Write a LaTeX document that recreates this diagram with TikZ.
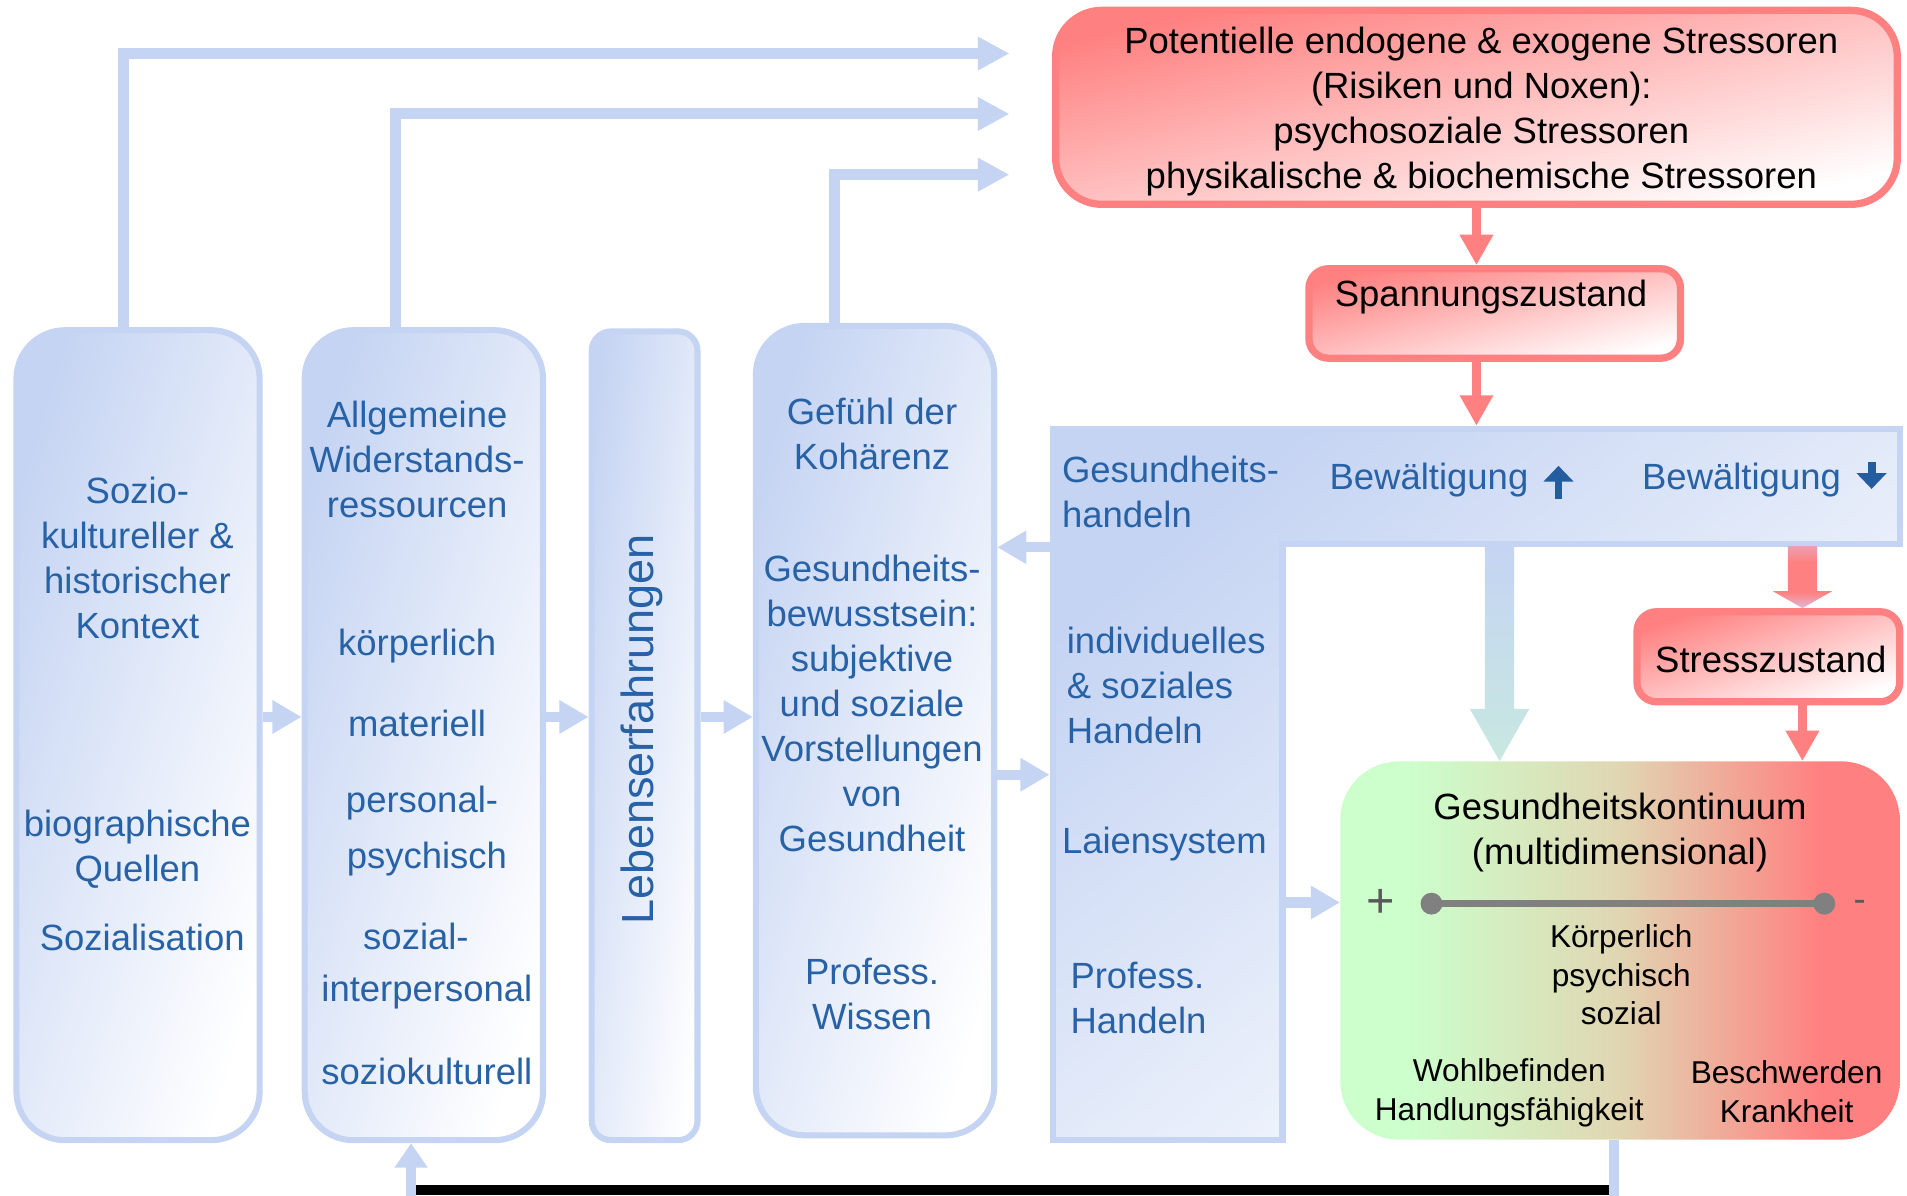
\documentclass[tikz,border=0pt]{standalone}
\usepackage{fontspec}
\setmainfont{Liberation Sans}
\usetikzlibrary{arrows.meta,calc}
\definecolor{bluec}{RGB}{197,212,243}
\definecolor{txtblue}{RGB}{40,98,166}
\definecolor{arrblue}{RGB}{36,92,160}
\definecolor{redc}{RGB}{255,128,128}
\definecolor{kgreen}{RGB}{204,255,204}
\definecolor{ktan}{RGB}{224,214,178}
\definecolor{kred}{RGB}{255,128,128}
\definecolor{greyc}{RGB}{128,128,128}
\definecolor{signgrey}{RGB}{90,90,90}
\definecolor{arrteal}{RGB}{200,232,224}
\definecolor{arrpinkA}{RGB}{233,161,178}
\definecolor{arrpinkB}{RGB}{224,184,214}
\pgfdeclarehorizontalshading{kontshade}{100bp}{color(0bp)=(kgreen); color(31bp)=(kgreen); color(50bp)=(ktan); color(68bp)=(kred); color(100bp)=(kred)}
\pgfdeclareverticalshading{redarrshade}{100bp}{color(0bp)=(arrpinkB); color(25bp)=(arrpinkB); color(38bp)=(redc); color(62bp)=(redc); color(75bp)=(arrpinkA); color(100bp)=(arrpinkA)}
\newcommand\fmain{\fontsize{30}{37}\selectfont}
\newcommand\fsmall{\fontsize{26}{31.5}\selectfont}
\newcommand\fbig{\fontsize{37}{44}\selectfont}
\newcommand\fplus{\fontsize{40}{44}\selectfont}
\begin{document}
\begin{tikzpicture}[x=1pt,y=-1pt,
  bluebox/.style={draw=bluec, line width=5pt, top color=bluec, bottom color=white, shading angle=73, inner sep=0pt},
  redbox/.style={draw=redc, line width=6pt, top color=redc, bottom color=white, inner sep=0pt},
  kontbox/.style={shade, shading=kontshade, inner sep=0pt, rounded corners=48pt, minimum width=460pt, minimum height=311pt},
  txtb/.style={text=txtblue, font=\fmain, align=center, inner sep=0pt},
  txtbl/.style={text=txtblue, font=\fmain, align=left, inner sep=0pt, anchor=west},
  txtk/.style={text=black, font=\fmain, align=center, inner sep=0pt},
  txtks/.style={text=black, font=\fsmall, align=center, inner sep=0pt},
  barrow/.style={draw=bluec, line width=8.5pt, -{Triangle[length=24pt,width=26pt]}},
  tarrow/.style={draw=bluec, line width=9pt, -{Triangle[length=26pt,width=26pt]}},
  rarrow/.style={draw=redc, line width=7pt, -{Triangle[length=25pt,width=26pt]}},
  boldarr/.style={draw=arrblue, line width=6.5pt, -{Triangle[length=13pt,width=24pt]}},
  dotnode/.style={circle, fill=greyc, inner sep=0pt, minimum size=18pt}
]
\useasboundingbox (0,0) rectangle (1568,983);

% row coordinates
\coordinate (r1) at (0,589.5);
\coordinate (r2) at (0,450);
\coordinate (r3) at (0,637);
\coordinate (Ltop) at (0,350);
\coordinate (Lw) at (863,450);
\coordinate (Le) at (1057,742);

% left boxes
\node[bluebox, rounded corners=40pt, minimum width=200pt, minimum height=666pt] (A) at (113.5,604.5) {};
\node[bluebox, rounded corners=40pt, minimum width=196pt, minimum height=666pt] (B) at (348.5,604.5) {};
\node[bluebox, shading angle=82, rounded corners=16pt, minimum width=87pt, minimum height=665pt] (C) at (530,605) {};
\node[bluebox, rounded corners=40pt, minimum width=196pt, minimum height=665.5pt] (D) at (719.5,600.75) {};

% red boxes
\node[redbox, shading angle=13, rounded corners=38pt, minimum width=692pt, minimum height=159.5pt] (S) at (1214,88.25) {};
\node[redbox, shading angle=14, rounded corners=16pt, minimum width=305.5pt, minimum height=73.5pt] (P) at (1229,257.75) {};
\node[redbox, shading angle=19, rounded corners=16pt, minimum width=216pt, minimum height=74pt] (Z) at (1454,540) {};

% Gesundheitskontinuum
\node[kontbox] (K) at (1332,781.5) {};

% L-shape
\coordinate (L1) at (865.5,352.5);
\coordinate (L2) at (1562.5,352.5);
\coordinate (L3) at (1562.5,447.5);
\coordinate (L4) at (1054.5,447.5);
\coordinate (L5) at (1054.5,937.5);
\coordinate (L6) at (865.5,937.5);
\draw[draw=bluec, line width=5pt, top color=bluec, bottom color=white, shading angle=40] (L1) -- (L2) -- (L3) -- (L4) -- (L5) -- (L6) -- cycle;

% top connectors
\coordinate (T1) at (830,44);
\coordinate (T2) at (830,93.7);
\coordinate (T3) at (830,143.6);
\draw[tarrow] ([xshift=-12pt]A.north) |- (T1);
\draw[tarrow] ([xshift=-23pt]B.north) |- (T2);
\draw[tarrow] ([xshift=-33.5pt]D.north) |- (T3);

% between boxes
\draw[barrow] (A.east |- r1) -- (B.west |- r1);
\draw[barrow] (B.east |- r1) -- (C.west |- r1);
\draw[barrow] (C.east |- r1) -- (D.west |- r1);
\draw[barrow] (Lw) -- (D.east |- r2);
\draw[barrow] (D.east |- r3) -- (Lw |- r3);
\draw[barrow] (Le) -- (K.west |- Le);

% red arrows
\draw[rarrow] (S.south) -- (S.south |- P.north);
\draw[rarrow] (P.south -| S.south) -- (S.south |- Ltop);

% wide arrows
\coordinate (wb1) at (1233,449);
\coordinate (wb2) at (K.north -| wb1);
\shade[top color=bluec, bottom color=arrteal]
  ($(wb1)+(-12,0)$) -- ($(wb1)+(12,0)$) -- ($(wb2)+(12,-43)$) -- ($(wb2)+(24.5,-43)$) -- (wb2)
  -- ($(wb2)+(-24.5,-43)$) -- ($(wb2)+(-12,-43)$) -- cycle;
\coordinate (wr1) at (1482,449);
\coordinate (wr2) at (Z.north -| wr1);
\shade[shading=redarrshade]
  ($(wr1)+(-12,0)$) -- ($(wr1)+(12,0)$) -- ($(wr2)+(12,-14)$) -- ($(wr2)+(24.5,-14)$) -- (wr2)
  -- ($(wr2)+(-24.5,-14)$) -- ($(wr2)+(-12,-14)$) -- cycle;
\draw[rarrow] (Z.south -| wr1) -- (K.north -| wr1);

% feedback loop
\coordinate (fb1) at (1327,978.5);
\coordinate (fb2) at (338,978.5);
\draw[black, line width=8pt] (fb1) -- (fb2);
\draw[draw=bluec, line width=8.5pt] (K.south -| fb1) -- ($(fb1)+(0,5)$);
\draw[draw=bluec, line width=8.5pt, -{Triangle[length=20pt,width=26pt]}] ($(fb2)+(0,5)$) -- (B.south -| fb2);

% texts box A
\node[txtb] (tA1) at (113,458.5) {Sozio-\\kultureller \&\\historischer\\Kontext};
\node[txtb] (tA2) at (113,698) {biographische\\Quellen};
\node[txtb] (tA3) at (117,771) {Sozialisation};
% box B
\node[txtb] (tB1) at (343,378) {Allgemeine\\Widerstands-\\ressourcen};
\node[txtb] (tB2) at (343,531) {körperlich};
\node[txtb] (tB3) at (343,595) {materiell};
\node[txtb] (tB4) at (347,660) {personal-};
\node[txtb] (tB5) at (351,706) {psychisch};
\node[txtb] (tB6) at (342,770) {sozial-};
\node[txtb] (tB7) at (351,816) {interpersonal};
\node[txtb] (tB8) at (351,881) {soziokulturell};
% box C
\node[text=txtblue, font=\fbig, inner sep=0pt, rotate=90] (tC) at (528,600) {Lebenserfahrungen};
% box D
\node[txtb] (tD1) at (717,357) {Gefühl der\\Kohärenz};
\node[txtb] (tD2) at (717,578) {Gesundheits-\\bewusstsein:\\subjektive\\und soziale\\Vorstellungen\\von\\Gesundheit};
\node[txtb] (tD3) at (717,817.5) {Profess.\\Wissen};
% L-shape
\node[txtbl] (tL1) at (873,404.5) {Gesundheits-\\handeln};
\node[txtbl] (tL2) at (1093,395) {Bewältigung};
\node[txtbl] (tL3) at (1350,395) {Bewältigung};
\draw[boldarr] ([xshift=24.6pt,yshift=-15pt]tL2.east) -- ([xshift=24.6pt,yshift=12pt]tL2.east);
\draw[boldarr] ([xshift=25pt,yshift=15pt]tL3.east) -- ([xshift=25pt,yshift=-7pt]tL3.east);
\node[txtbl] (tL4) at (877,564) {individuelles\\\& soziales\\Handeln};
\node[txtbl] (tL5) at (873,694) {Laiensystem};
\node[txtbl] (tL6) at (880,820.5) {Profess.\\Handeln};
% red texts
\node[txtk] (tS) at (1218,92) {Potentielle endogene \& exogene Stressoren\\(Risiken und Noxen):\\psychosoziale Stressoren\\physikalische \& biochemische Stressoren};
\node[txtk] (tP) at (1226,244) {Spannungszustand};
\node[txtk] (tZ) at (1456,542) {Stresszustand};
% Kontinuum
\node[txtk] (tK1) at (1332,684.5) {Gesundheitskontinuum\\(multidimensional)};
\node[dotnode] (d1) at (1177,743) {};
\node[dotnode] (d2) at (1500,743) {};
\draw[greyc, line width=6pt] (d1.center) -- (d2.center);
\node[text=signgrey, font=\fplus, inner sep=0pt] (plus) at (1135,743) {+};
\node[text=signgrey, font=\fmain, inner sep=0pt] (minus) at (1529,745) {-};
\node[txtks] (tK2) at (1333,801.5) {Körperlich\\psychisch\\sozial};
\node[txtks] (tK3) at (1241,898.5) {Wohlbefinden\\Handlungsfähigkeit};
\node[txtks] (tK4) at (1469,897.5) {Beschwerden\\Krankheit};
\end{tikzpicture}
\end{document}
